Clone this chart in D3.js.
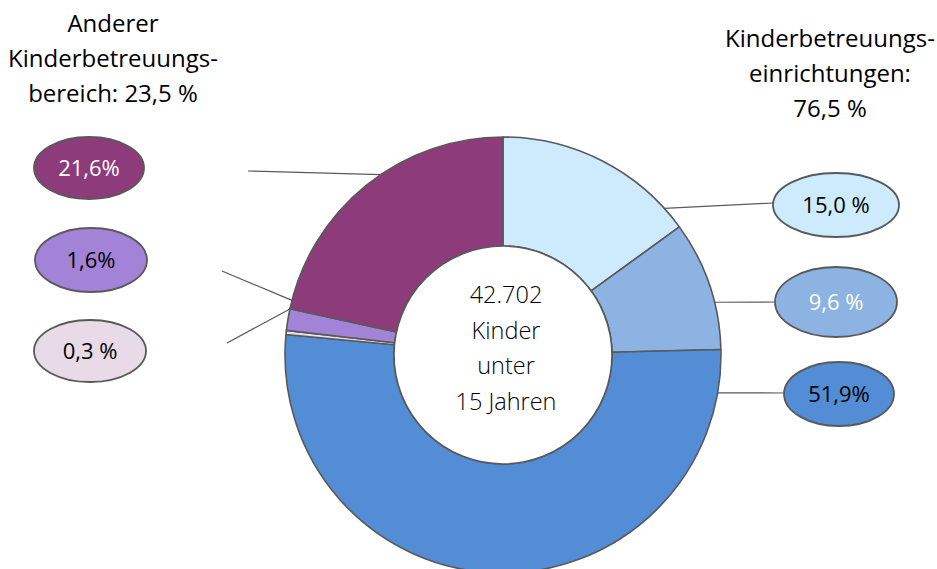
<!DOCTYPE html>
<html>
<head>
<meta charset="utf-8">
<script src="https://cdn.jsdelivr.net/npm/d3@7"></script>
<style>
    body { margin: 0; background: #fff; }
    svg { display: block; font-family: 'Open Sans', sans-serif; }
</style>
</head>
<body>
<svg id="chart"></svg>
<script>
const WIDTH = 937;
const HEIGHT = 569;
const OUTER_R = 218;
const INNER_R = 109;
const STROKE = '#595959';

// slices, clockwise from 12 o'clock
const segments = ['kita1', 'kita2', 'kita3', 'other1', 'other2', 'other3'];
const values = [15.0, 9.6, 51.9, 0.3, 1.6, 21.6];
const valueLabels = ['15,0 %', '9,6 %', '51,9%', '0,3 %', '1,6%', '21,6%'];
const colors = ['#cdebfc', '#8db3e2', '#538dd5', '#ecdde9', '#a383d8', '#8e3b7b'];
const labelColors = ['#000', '#fff', '#000', '#000', '#000', '#fff'];
const bubbleColors = ['#cdebfc', '#8db3e2', '#538dd5', '#e8dae6', '#a383d8', '#8e3b7b'];

const leftTitle = ['Anderer', 'Kinderbetreuungs-', 'bereich: 23,5 %'];
const rightTitle = ['Kinderbetreuungs-', 'einrichtungen:', '76,5 %'];
const centerText = ['42.702', 'Kinder', 'unter', '15 Jahren'];

// label bubble layout: centre, radii, leader end, attach angle on the ring (deg)
const bubbles = {
    kita1:  { cx: 836, cy: 205, rx: 63, ry: 32, lx: 773, ly: 203, attach: 47.7 },
    kita2:  { cx: 836, cy: 302, rx: 61, ry: 35, lx: 774, ly: 302, attach: 76 },
    kita3:  { cx: 839, cy: 394, rx: 55, ry: 32, lx: 783, ly: 393, attach: 100 },
    other1: { cx: 90, cy: 351, rx: 56, ry: 31, lx: 227, ly: 343, attach: 282.2 },
    other2: { cx: 91, cy: 260, rx: 56, ry: 32, lx: 222, ly: 271, attach: 284.5 },
    other3: { cx: 89, cy: 168, rx: 55, ry: 31, lx: 248, ly: 171, attach: 325.8 }
};

const cx = 503, cy = 355;

const svg = d3.select('#chart')
    .attr('width', WIDTH)
    .attr('height', HEIGHT);

const data = segments.map((key, i) => ({
    key: key,
    value: values[i],
    label: valueLabels[i],
    color: colors[i],
    bubble: bubbleColors[i],
    text: labelColors[i]
}));

const pie = d3.pie()
    .sort(null)
    .value(d => d.value);

const arc = d3.arc()
    .innerRadius(INNER_R)
    .outerRadius(OUTER_R);

const g = svg.append('g')
    .attr('transform', `translate(${cx},${cy})`);

g.selectAll('path')
    .data(pie(data))
    .enter().append('path')
    .attr('d', arc)
    .attr('fill', d => d.data.color)
    .attr('stroke', STROKE)
    .attr('stroke-width', 1.6)
    .attr('stroke-linejoin', 'round');

// inner hole
g.append('circle')
    .attr('r', INNER_R)
    .attr('fill', '#fff')
    .attr('stroke', STROKE)
    .attr('stroke-width', 1.6);

g.append('text')
    .attr('text-anchor', 'middle')
    .attr('font-size', 23.5)
    .attr('font-weight', 300)
    .attr('fill', '#000')
    .selectAll('tspan')
    .data(centerText)
    .enter().append('tspan')
    .attr('x', 3)
    .attr('y', (d, i) => -52 + i * 35.5)
    .text(d => d);

// leader lines
const ringPoint = deg => {
    const a = deg * Math.PI / 180;
    return [cx + OUTER_R * Math.sin(a), cy - OUTER_R * Math.cos(a)];
};

svg.append('g')
    .selectAll('line')
    .data(data)
    .enter().append('line')
    .attr('x1', d => ringPoint(bubbles[d.key].attach)[0])
    .attr('y1', d => ringPoint(bubbles[d.key].attach)[1])
    .attr('x2', d => bubbles[d.key].lx)
    .attr('y2', d => bubbles[d.key].ly)
    .attr('stroke', STROKE)
    .attr('stroke-width', 1.2);

// label bubbles
const lab = svg.append('g')
    .selectAll('g')
    .data(data)
    .enter().append('g')
    .attr('transform', d => `translate(${bubbles[d.key].cx},${bubbles[d.key].cy})`);

lab.append('ellipse')
    .attr('rx', d => bubbles[d.key].rx)
    .attr('ry', d => bubbles[d.key].ry)
    .attr('fill', d => d.bubble)
    .attr('stroke', STROKE)
    .attr('stroke-width', 1.8);

lab.append('text')
    .attr('text-anchor', 'middle')
    .attr('dy', '0.36em')
    .attr('font-size', 22)
    .attr('fill', d => d.text)
    .text(d => d.label);

// group titles
function title(lines, x, y0) {
    svg.append('text')
        .attr('text-anchor', 'middle')
        .attr('font-size', 24)
        .attr('fill', '#000')
        .selectAll('tspan')
        .data(lines)
        .enter().append('tspan')
        .attr('x', x)
        .attr('y', (d, i) => y0 + i * 35)
        .text(d => d);
}

title(leftTitle, 113, 32);
title(rightTitle, 830, 47);
</script>
</body>
</html>
